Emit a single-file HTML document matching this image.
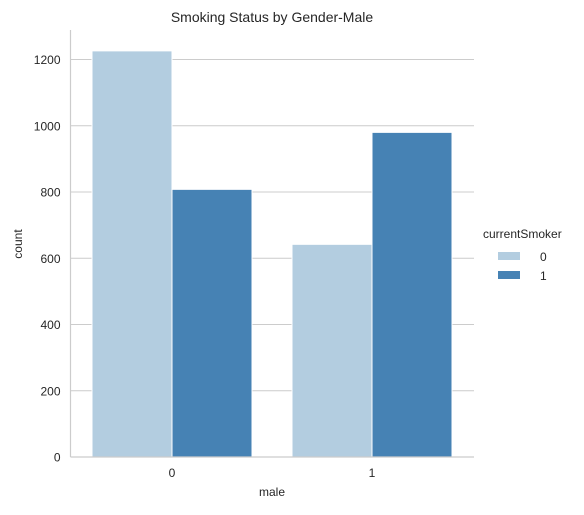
<!DOCTYPE html>
<html><head><meta charset="utf-8"><style>
body{margin:0;background:#fff;font-family:"Liberation Sans","DejaVu Sans",sans-serif;}
svg text{font-family:"Liberation Sans","DejaVu Sans",sans-serif;fill:#262626;}
</style></head><body>
<svg id="c" width="584" height="510"></svg>
<script>
const categories=["0","1"];
const smoker0=[1226,642];
const smoker1=[808,980];
const yTicks=[0,200,400,600,800,1000,1200];
const svg=document.getElementById('c');
const NS='http://www.w3.org/2000/svg';
const L=70.5,R=474,T=30,B=457;
const y=v=>B-v*(B-59.5)/1200;
const xc=i=>172+i*200;
function mk(t,a,txt){const e=document.createElementNS(NS,t);for(const k in a)e.setAttribute(k,a[k]);if(txt!==undefined)e.textContent=txt;svg.appendChild(e);return e;}
yTicks.forEach(v=>{
 const g=mk('line',{x1:L,x2:R,y1:y(v),y2:y(v),stroke:'#cccccc','stroke-width':1});
 
 
 const t=mk('text',{x:L-10,y:y(v)+4.5,'text-anchor':'end','font-size':12},String(v));
 
 
});
categories.forEach((c,i)=>{
 const b0=mk('rect',{x:xc(i)-80,y:y(smoker0[i]),width:80,height:B-y(smoker0[i]),fill:'#b3cde0',stroke:'#fff','stroke-width':1});
 
 
 const b1=mk('rect',{x:xc(i),y:y(smoker1[i]),width:80,height:B-y(smoker1[i]),fill:'#4682b4',stroke:'#fff','stroke-width':1});
 
 
 const t=mk('text',{x:xc(i),y:B+20,'text-anchor':'middle','font-size':12},c);
 
 
});
const s1=mk('line',{x1:L,x2:L,y1:T,y2:B,stroke:'#cccccc','stroke-width':1.2});


const s2=mk('line',{x1:L,x2:R,y1:B,y2:B,stroke:'#cccccc','stroke-width':1.2});


const ti=mk('text',{x:272,y:22,'text-anchor':'middle','font-size':14},'Smoking Status by Gender-Male');


const xl=mk('text',{x:272,y:496,'text-anchor':'middle','font-size':12},'male');


const yl=mk('text',{x:22,y:244,'text-anchor':'middle','font-size':12,transform:'rotate(-90 22 244)'},'count');


const lt=mk('text',{x:483,y:238,'font-size':12},'currentSmoker');


[['0','#b3cde0',257],['1','#4682b4',276]].forEach(([l,c,yy])=>{
 const r=mk('rect',{x:498,y:yy-5,width:22,height:8,fill:c});
 
 
 const t=mk('text',{x:540,y:yy+4,'font-size':12},l);
 
 
});
</script>
</body></html>
